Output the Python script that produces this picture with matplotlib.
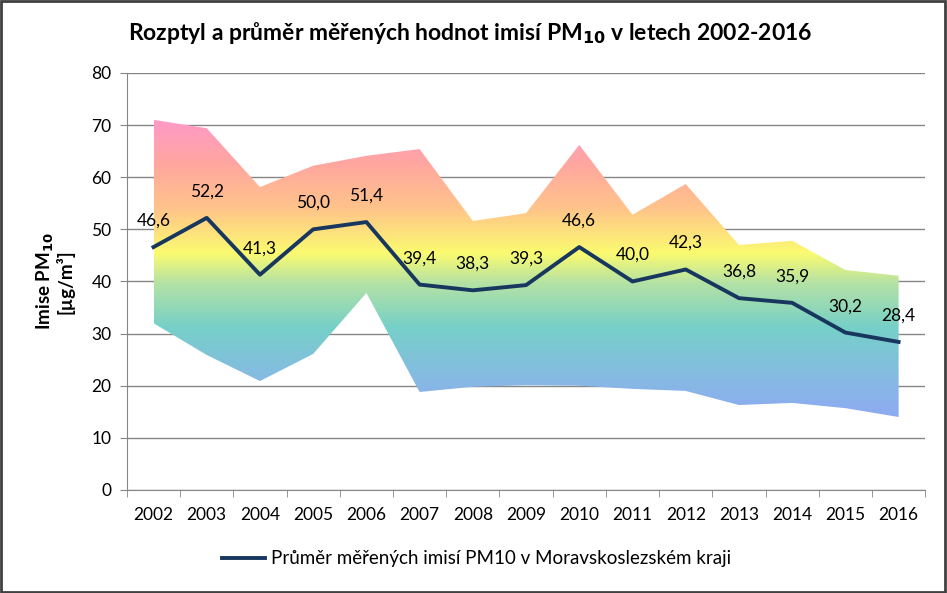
import numpy as np
import matplotlib
matplotlib.use("Agg")
import matplotlib.pyplot as plt
from matplotlib.colors import LinearSegmentedColormap
from matplotlib.patches import Rectangle

years = ['2002', '2003', '2004', '2005', '2006', '2007', '2008', '2009',
         '2010', '2011', '2012', '2013', '2014', '2015', '2016']
mean_vals = [46.6, 52.2, 41.3, 50.0, 51.4, 39.4, 38.3, 39.3,
             46.6, 40.0, 42.3, 36.8, 35.9, 30.2, 28.4]
upper_vals = [71.0, 69.4, 58.1, 62.2, 64.1, 65.4, 51.6, 53.1,
              66.2, 52.8, 58.7, 47.0, 47.8, 42.2, 41.1]
lower_vals = [32.0, 25.9, 20.9, 26.1, 37.8, 18.8, 19.8, 20.1,
              20.0, 19.4, 19.0, 16.3, 16.7, 15.7, 14.0]

plt.rcParams['font.family'] = ['Lato', 'DejaVu Sans']

fig = plt.figure(figsize=(9.47, 5.93), dpi=100)
ax = fig.add_axes([0.134, 0.1737, 0.843, 0.7033])

x = np.arange(len(years))

# rainbow gradient clipped to the min-max band
band = ax.fill_between(x, lower_vals, upper_vals, color='none', lw=0)
cmap = LinearSegmentedColormap.from_list('rb', [
    (0.00, '#8eaaf2'),
    (0.15, '#84bde0'),
    (0.30, '#76d0c8'),
    (0.45, '#b5e2a4'),
    (0.55, '#fbfb70'),
    (0.70, '#ffc48a'),
    (0.85, '#ffa7a0'),
    (1.00, '#ff99c8'),
])
grad = np.linspace(0, 1, 256).reshape(-1, 1)
ymin, ymax = min(lower_vals), max(upper_vals)
img = ax.imshow(grad, cmap=cmap, origin='lower', aspect='auto',
                extent=[x[0], x[-1], ymin, ymax], zorder=1)
path = band.get_paths()[0]
img.set_clip_path(path, transform=ax.transData)

ax.plot(x, mean_vals, color='#17375e', lw=2.8, zorder=3,
        label='Průměr měřených imisí PM10 v Moravskoslezském kraji')

for xi, v in zip(x, mean_vals):
    ax.annotate(f'{v:.1f}'.replace('.', ','), (xi, v), xytext=(0, 19),
                textcoords='offset points', ha='center', va='center',
                fontsize=12.5, zorder=4)

ax.set_xlim(-0.5, len(years) - 0.5)
ax.set_ylim(0, 80)
ax.set_yticks(range(0, 81, 10))
ax.set_xticks(x)
ax.set_xticklabels(years)
ax.set_xticks(np.arange(-0.5, len(years), 1), minor=True)
ax.tick_params(axis='x', which='major', length=0, pad=12, labelsize=12.5)
ax.tick_params(axis='x', which='minor', length=5, color='#868686')
ax.tick_params(axis='y', length=5, color='#868686', labelsize=12.5, pad=6)
ax.grid(axis='y', color='#868686', lw=1)
ax.set_axisbelow(True)
for s in ['top', 'right']:
    ax.spines[s].set_visible(False)
for s in ['left', 'bottom']:
    ax.spines[s].set_color('#868686')

ax.set_ylabel('Imise PM$_{\\mathbf{10}}$\n[µg/m³]', fontsize=13.5,
              fontweight='bold', labelpad=12, linespacing=1.0)
fig.text(0.497, 0.945, 'Rozptyl a průměr měřených hodnot imisí PM$_{\\mathbf{10}}$ v letech 2002-2016',
         ha='center', va='center', fontsize=16.5, fontweight='bold')

fig.legend(loc='center', bbox_to_anchor=(0.503, 0.058), frameon=False,
           fontsize=13.5, handlelength=2.3, handletextpad=0.3)

fig.patches.append(Rectangle((0.001, 0.001), 0.997, 0.997, transform=fig.transFigure,
                             fill=False, ec='#404040', lw=2))

fig.savefig('out.png', dpi=100)
